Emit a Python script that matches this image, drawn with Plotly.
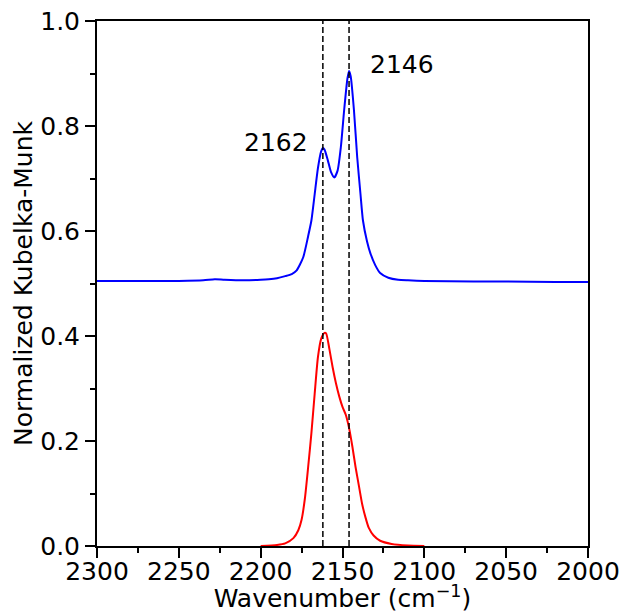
import plotly.graph_objects as go

# Blue spectrum (offset by 0.5)
blue_x = [2300, 2270, 2250, 2235, 2228, 2222, 2210, 2200, 2195, 2190, 2185, 2181, 2178, 2174, 2171,
          2169, 2167, 2165, 2163, 2162, 2161, 2159, 2157, 2155, 2153, 2151, 2149, 2147, 2146,
          2145, 2143, 2141, 2139, 2137.5, 2135, 2133, 2130, 2127, 2122, 2116, 2110, 2100, 2070,
          2050, 2020, 2000]
blue_y = [0.505, 0.505, 0.505, 0.506, 0.508, 0.507, 0.506, 0.507, 0.508, 0.510, 0.514, 0.518, 0.525,
          0.55, 0.59, 0.62, 0.67, 0.72, 0.752, 0.758, 0.755, 0.735, 0.712, 0.702, 0.715, 0.76,
          0.83, 0.89, 0.905, 0.895, 0.83, 0.74, 0.67, 0.62, 0.58, 0.558, 0.535, 0.52, 0.511,
          0.507, 0.506, 0.505, 0.504, 0.504, 0.503, 0.503]

# Red spectrum
red_x = [2200, 2190, 2185, 2180, 2177, 2175, 2173, 2171, 2169, 2167, 2165, 2163, 2161, 2160,
         2158, 2156, 2154, 2152, 2150, 2148, 2146, 2144, 2142, 2140, 2138, 2136, 2134, 2131,
         2127, 2120, 2110, 2100]
red_y = [0.0, 0.002, 0.005, 0.015, 0.03, 0.05, 0.09, 0.15, 0.215, 0.29, 0.36, 0.395, 0.406, 0.405,
         0.375, 0.34, 0.31, 0.285, 0.265, 0.25, 0.225, 0.19, 0.15, 0.115, 0.08, 0.055, 0.035,
         0.02, 0.01, 0.004, 0.001, 0.0]

peaks = [2162, 2146]
peak_labels = ["2162", "2146"]
label_y = [0.768, 0.918]

x_ticks = [2300, 2250, 2200, 2150, 2100, 2050, 2000]
y_ticks = [0.0, 0.2, 0.4, 0.6, 0.8, 1.0]

FS = 25

fig = go.Figure()
fig.add_trace(go.Scatter(x=blue_x, y=blue_y, mode="lines",
                         line=dict(color="#0000ff", width=2, shape="spline", smoothing=0.6), showlegend=False))
fig.add_trace(go.Scatter(x=red_x, y=red_y, mode="lines",
                         line=dict(color="#ff0000", width=2, shape="spline", smoothing=0.6), showlegend=False))
for p in peaks:
    fig.add_trace(go.Scatter(x=[p, p], y=[0, 1], mode="lines",
                             line=dict(color="black", width=1.5, dash="6px,3px"), showlegend=False))

fig.add_annotation(x=peaks[0], y=label_y[0], text=peak_labels[0], showarrow=False,
                   xanchor="right", yanchor="middle", xshift=-13, font=dict(size=FS, color="black"))
fig.add_annotation(x=peaks[1], y=label_y[1], text=peak_labels[1], showarrow=False,
                   xanchor="left", yanchor="middle", xshift=19, font=dict(size=FS, color="black"))

def axis_style(minor_dtick, minor_tick0):
    return dict(showgrid=False, zeroline=False, showline=True, linecolor="black", linewidth=2,
                mirror=True, ticks="outside", ticklen=10, tickwidth=2, tickcolor="black",
                tickfont=dict(size=FS, color="black"), automargin=False,
                minor=dict(ticks="outside", ticklen=5, tickwidth=1.5, tickcolor="black",
                           dtick=minor_dtick, tick0=minor_tick0, showgrid=False))

fig.update_xaxes(range=[2300, 2000], tickvals=x_ticks, ticklabelstandoff=-8,
                 title=dict(text="Wavenumber (cm<sup>−1</sup>)", font=dict(size=FS, color="black"), standoff=12),
                 **axis_style(25, 2000))
fig.update_yaxes(range=[0, 1], tickvals=y_ticks, tickformat=".1f",
                 title=dict(text="Normalized Kubelka-Munk", font=dict(size=FS, color="black"), standoff=0),
                 **axis_style(0.1, 0))

fig.update_layout(width=622, height=613, margin=dict(l=97, r=34, t=21, b=67),
                  plot_bgcolor="white", paper_bgcolor="white",
                  font=dict(family="DejaVu Sans", color="black", size=FS))

fig.write_html("out.html", config={"displayModeBar": False},
               post_script="document.body.style.margin='0px';document.body.style.overflow='hidden';")
